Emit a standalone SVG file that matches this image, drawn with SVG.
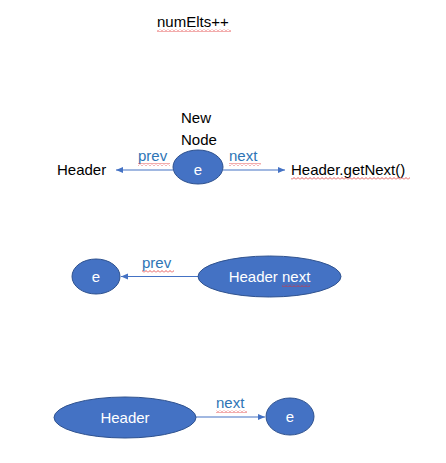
<svg xmlns="http://www.w3.org/2000/svg" width="446" height="463" viewBox="0 0 446 463">
<style>
.node{fill:#4472C4;stroke:#2F528F;stroke-width:1}
.lbl{font-family:"Liberation Sans",Arial,sans-serif;font-size:15px}
.in{fill:#FFFFFF;text-anchor:middle}
.blk{fill:#000000}
.blue{fill:#2E75B6}
.edge{stroke:#4472C4;stroke-width:1.2;fill:none;marker-end:url(#ah)}
.sq{fill:url(#squig)}
</style>
<defs>
<marker id="ah" markerWidth="8" markerHeight="8" refX="7" refY="4" orient="auto" markerUnits="userSpaceOnUse">
<path d="M0,1 L7,4 L0,7 Z" fill="#4472C4"/>
</marker>
<pattern id="squig" width="4" height="3" patternUnits="userSpaceOnUse">
<path d="M0,2.5 L2,0.5 L4,2.5" stroke="#E03030" stroke-width="0.8" fill="none"/>
</pattern>
</defs>
<rect width="446" height="463" fill="#FFFFFF"/>

<g id="title">
<text class="lbl blk" x="157" y="27">numElts++</text>
<rect class="sq" x="157" y="29" width="74" height="3"/>
</g>

<g id="connectors">
<line class="edge" x1="173" y1="170" x2="116" y2="170"/>
<line class="edge" x1="223" y1="170" x2="285" y2="170"/>
<line class="edge" x1="198" y1="276.5" x2="121" y2="276.5"/>
<line class="edge" x1="196" y1="417" x2="265" y2="417"/>
<text class="lbl blue" x="138" y="161">prev</text>
<rect class="sq" x="138" y="163" width="32" height="3"/>
<text class="lbl blue" x="229" y="161">next</text>
<rect class="sq" x="229" y="163" width="32" height="3"/>
<text class="lbl blue" x="142" y="268">prev</text>
<rect class="sq" x="142" y="270" width="32" height="3"/>
<text class="lbl blue" x="216" y="408">next</text>
<rect class="sq" x="216" y="410" width="31" height="3"/>
</g>

<g id="newnode-label">
<text class="lbl blk" x="181" y="123">New</text>
<text class="lbl blk" x="181" y="145">Node</text>
</g>

<g id="node-e1">
<ellipse class="node" cx="198" cy="167" rx="25" ry="17"/>
<text class="lbl in" x="198" y="175">e</text>
</g>

<g id="header-text">
<text class="lbl blk" x="57" y="175">Header</text>
</g>

<g id="getnext-text">
<text class="lbl blk" x="291" y="175">Header.getNext()</text>
<rect class="sq" x="291" y="177" width="119" height="3"/>
</g>

<g id="node-e2">
<ellipse class="node" cx="96" cy="276.5" rx="24" ry="17.5"/>
<text class="lbl in" x="96" y="282">e</text>
</g>

<g id="node-headernext">
<ellipse class="node" cx="269.5" cy="276.5" rx="71.5" ry="20.5"/>
<text class="lbl in" x="269.5" y="282">Header next</text>
<rect class="sq" x="282" y="284" width="28" height="3"/>
</g>

<g id="node-header">
<ellipse class="node" cx="125" cy="417.5" rx="71" ry="20.5"/>
<text class="lbl in" x="125" y="423">Header</text>
</g>

<g id="node-e3">
<ellipse class="node" cx="290" cy="416.5" rx="24" ry="18.5"/>
<text class="lbl in" x="290" y="422">e</text>
</g>
</svg>
